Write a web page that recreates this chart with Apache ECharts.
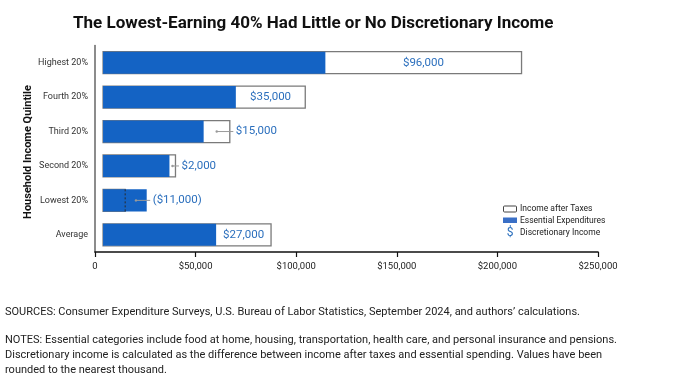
<!DOCTYPE html>
<html>
<head>
<meta charset="utf-8">
<script src="https://cdn.jsdelivr.net/npm/echarts@6/dist/echarts.min.js"></script>
<style>
html,body{margin:0;padding:0;background:#fff;}
#chart{width:700px;height:384px;}
</style>
</head>
<body>
<div id="chart"></div>
<script>
const categories = ['Highest 20%', 'Fourth 20%', 'Third 20%', 'Second 20%', 'Lowest 20%', 'Average'];
const incomeAfterTaxes = [212000, 104500, 67000, 40000, 15000, 87500];
const essentialExpenditures = [114500, 70000, 54000, 37000, 25700, 60200];
const discretionaryLabels = ['$96,000', '$35,000', '$15,000', '$2,000', '($11,000)', '$27,000'];
const xTickValues = [0, 50000, 100000, 150000, 200000, 250000];
const xTickLabels = ['0', '$50,000', '$100,000', '$150,000', '$200,000', '$250,000'];
const legendLabels = ['Income after Taxes', 'Essential Expenditures', 'Discretionary Income'];

const BLUE = '#1463c4';
const LABEL_BLUE = '#2b6fbd';
const BAR_BASE = 4000;
const FONT = 'Roboto, "Noto Sans", sans-serif';

const chart = echarts.init(document.getElementById('chart'), null, {renderer: 'canvas'});

const seriesData = categories.map((c, i) => [i, incomeAfterTaxes[i], essentialExpenditures[i]]);

function renderItem(params, api) {
  const idx = api.value(0);
  const inc = api.value(1);
  const ess = api.value(2);
  const pBase = api.coord([BAR_BASE, idx]);
  const pInc = api.coord([inc, idx]);
  const pEss = api.coord([ess, idx]);
  const bh = api.size([0, 1])[1] * 0.64;
  const cy = pBase[1];
  const top = cy - bh / 2;
  const children = [];
  children.push({
    type: 'rect',
    shape: {x: pBase[0], y: top, width: pInc[0] - pBase[0], height: bh},
    style: {fill: '#ffffff', stroke: '#7a7a7a', lineWidth: 1.3}
  });
  children.push({
    type: 'rect',
    shape: {x: pBase[0], y: top, width: pEss[0] - pBase[0], height: bh},
    style: {fill: BLUE}
  });
  if (inc < ess) {
    children.push({
      type: 'line',
      shape: {x1: pInc[0], y1: top, x2: pInc[0], y2: top + bh},
      style: {stroke: '#2a2a2a', lineWidth: 1, lineDash: [2, 2]}
    });
  }
  const segW = Math.abs(pInc[0] - pEss[0]);
  const label = discretionaryLabels[idx];
  if (inc >= ess && segW > 48) {
    children.push({
      type: 'text',
      style: {text: label, x: (pInc[0] + pEss[0]) / 2, y: cy, fill: LABEL_BLUE,
        font: '11.5px ' + FONT, textAlign: 'center', textVerticalAlign: 'middle',
        align: 'center', verticalAlign: 'middle'}
    });
  } else {
    const right = Math.max(pInc[0], pEss[0]);
    const mid = (pInc[0] + pEss[0]) / 2;
    children.push({
      type: 'line',
      shape: {x1: mid, y1: cy, x2: right + 3.5, y2: cy},
      style: {stroke: '#9a9a9a', lineWidth: 1}
    });
    children.push({
      type: 'circle',
      shape: {cx: mid, cy: cy, r: 1.2},
      style: {fill: '#9a9a9a'}
    });
    children.push({
      type: 'text',
      style: {text: label, x: right + 6, y: cy, fill: LABEL_BLUE,
        font: '11.5px ' + FONT, textAlign: 'left', textVerticalAlign: 'middle',
        align: 'left', verticalAlign: 'middle'}
    });
  }
  return {type: 'group', children: children};
}

const footerStyle = {fill: '#222', font: '11px ' + FONT};

const option = {
  backgroundColor: '#ffffff',
  animation: false,
  title: {
    text: 'The Lowest-Earning 40% Had Little or No Discretionary Income',
    left: 68, top: 10,
    textStyle: {fontFamily: FONT, fontWeight: 'bold', fontSize: 17, color: '#111'}
  },
  grid: {left: 95, right: 102, top: 45.5, bottom: 132, containLabel: false},
  xAxis: {
    type: 'value',
    min: xTickValues[0],
    max: xTickValues[xTickValues.length - 1],
    interval: 50000,
    axisLine: {show: true, lineStyle: {color: '#111', width: 1.6}},
    axisTick: {show: true, length: 5, lineStyle: {color: '#111', width: 1.2}},
    splitLine: {show: false},
    axisLabel: {
      margin: 10, color: '#222', fontFamily: FONT, fontSize: 9.5,
      formatter: v => { const k = xTickValues.indexOf(v); return k >= 0 ? xTickLabels[k] : ''; }
    }
  },
  yAxis: {
    type: 'category',
    data: categories,
    inverse: true,
    axisLine: {show: true, lineStyle: {color: '#666', width: 1.5}},
    axisTick: {show: false},
    axisLabel: {margin: 7, color: '#333', fontFamily: FONT, fontSize: 9}
  },
  series: [{
    type: 'custom',
    renderItem: renderItem,
    encode: {y: 0, x: [1, 2]},
    data: seriesData,
    clip: false
  }],
  graphic: [
    {type: 'text', x: 28, y: 152, rotation: Math.PI / 2,
      style: {text: 'Household Income Quintile', fill: '#111', font: 'bold 11px ' + FONT,
        align: 'center', verticalAlign: 'middle'}},
    {type: 'rect', shape: {x: 503.5, y: 206, width: 13, height: 6, r: 1},
      style: {fill: '#fff', stroke: '#444', lineWidth: 1}},
    {type: 'rect', shape: {x: 503, y: 217.5, width: 14, height: 5.5},
      style: {fill: '#3a6fc6'}},
    {type: 'text', x: 510, y: 233,
      style: {text: '$', fill: '#2b6fbd', font: '12px ' + FONT, align: 'center', verticalAlign: 'middle'}},
    {type: 'text', x: 520, y: 208.5,
      style: {text: legendLabels[0], fill: '#222', font: '8.5px ' + FONT, verticalAlign: 'middle'}},
    {type: 'text', x: 520, y: 220.5,
      style: {text: legendLabels[1], fill: '#222', font: '8.5px ' + FONT, verticalAlign: 'middle'}},
    {type: 'text', x: 520, y: 233,
      style: {text: legendLabels[2], fill: '#222', font: '8.5px ' + FONT, verticalAlign: 'middle'}},
    {type: 'text', x: 5, y: 312,
      style: Object.assign({text: 'SOURCES: Consumer Expenditure Surveys, U.S. Bureau of Labor Statistics, September 2024, and authors’ calculations.', verticalAlign: 'middle'}, footerStyle)},
    {type: 'text', x: 5, y: 340,
      style: Object.assign({text: 'NOTES: Essential categories include food at home, housing, transportation, health care, and personal insurance and pensions.', verticalAlign: 'middle'}, footerStyle)},
    {type: 'text', x: 5, y: 355,
      style: Object.assign({text: 'Discretionary income is calculated as the difference between income after taxes and essential spending. Values have been', verticalAlign: 'middle'}, footerStyle)},
    {type: 'text', x: 5, y: 370,
      style: Object.assign({text: 'rounded to the nearest thousand.', verticalAlign: 'middle'}, footerStyle)}
  ]
};
chart.setOption(option);
</script>
</body>
</html>
